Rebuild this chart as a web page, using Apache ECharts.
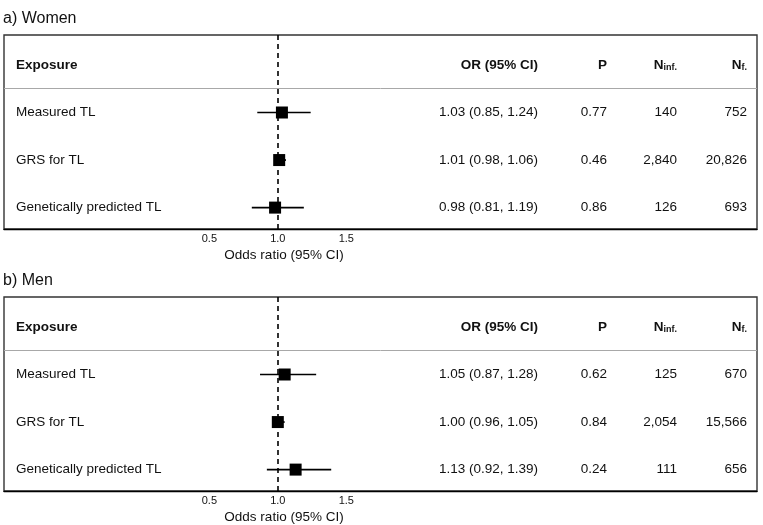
<!DOCTYPE html>
<html>
<head>
<meta charset="utf-8">
<title>Telomere length forest plot</title>
<script src="https://cdn.jsdelivr.net/npm/echarts@6/dist/echarts.min.js"></script>
<style>
  html, body { margin: 0; padding: 0; background: #fff; }
  #chart { width: 763px; height: 525px; }
</style>
</head>
<body>
<div id="chart"></div>
<script>
const exposures = ['Measured TL', 'GRS for TL', 'Genetically predicted TL'];
const xTicks = [0.5, 1.0, 1.5];

const womenOR = [1.03, 1.01, 0.98];
const womenLow = [0.85, 0.98, 0.81];
const womenHigh = [1.24, 1.06, 1.19];
const womenP = ['0.77', '0.46', '0.86'];
const womenNinf = ['140', '2,840', '126'];
const womenNf = ['752', '20,826', '693'];

const menOR = [1.05, 1.00, 1.13];
const menLow = [0.87, 0.96, 0.92];
const menHigh = [1.28, 1.05, 1.39];
const menP = ['0.62', '0.84', '0.24'];
const menNinf = ['125', '2,054', '111'];
const menNf = ['670', '15,566', '656'];

const FONT = '"Liberation Sans", Arial, sans-serif';
const INK = '#111';
// table columns (pixel x, right edge unless noted)
const col = { label: 16, or: 538, p: 607, ninf: 677, nf: 747 };

const chart = echarts.init(document.getElementById('chart'));

function cellText(text, x, y, align, bold, rich) {
  return {
    type: 'text',
    style: {
      text: text,
      x: x,
      y: y,
      textAlign: align,
      textVerticalAlign: 'middle',
      fontFamily: FONT,
      fontSize: 13.5,
      fontWeight: bold ? 'bold' : 'normal',
      fill: INK,
      rich: rich
    }
  };
}

const subRich = {
  n: { fontFamily: FONT, fontSize: 13.5, fontWeight: 'bold', color: INK, lineHeight: 14, verticalAlign: 'top', padding: [0, 0, 2, 0] },
  s: { fontFamily: FONT, fontSize: 9, fontWeight: 'bold', color: INK, lineHeight: 9, verticalAlign: 'bottom' }
};

function tableSeries(gi, or, low, high, p, ninf, nf) {
  return {
    type: 'custom',
    xAxisIndex: gi,
    yAxisIndex: gi,
    silent: true,
    z: 1,
    data: [0, 1, 2, 3].map(r => [0, r]),
    encode: { x: 0, y: 1 },
    renderItem: function (params, api) {
      const r = api.value(1);
      const y = api.coord([0, r])[1];
      let cells;
      if (r === 0) {
        cells = [
          cellText('Exposure', col.label, y, 'left', true),
          cellText('OR (95% CI)', col.or, y, 'right', true),
          cellText('P', col.p, y, 'right', true),
          cellText('{n|N}{s|inf.}', col.ninf, y, 'right', true, subRich),
          cellText('{n|N}{s|f.}', col.nf, y, 'right', true, subRich)
        ];
      } else {
        const i = r - 1;
        const orText = or[i].toFixed(2) + ' (' + low[i].toFixed(2) + ', ' + high[i].toFixed(2) + ')';
        cells = [
          cellText(exposures[i], col.label, y, 'left', false),
          cellText(orText, col.or, y, 'right', false),
          cellText(p[i], col.p, y, 'right', false),
          cellText(ninf[i], col.ninf, y, 'right', false),
          cellText(nf[i], col.nf, y, 'right', false)
        ];
      }
      return { type: 'group', children: cells };
    },
    markLine: {
      silent: true,
      symbol: ['none', 'none'],
      label: { show: false },
      animation: false,
      lineStyle: { color: '#a8a8a8', width: 1, type: 'solid' },
      data: [
        { yAxis: 0.5 },
        { xAxis: 1, lineStyle: { color: '#000', width: 1.6, type: [5, 4] } }
      ]
    }
  };
}

function ciSeries(gi, or, low, high) {
  return {
    type: 'custom',
    xAxisIndex: gi,
    yAxisIndex: gi,
    silent: true,
    z: 3,
    data: or.map((v, i) => [low[i], high[i], i + 1]),
    encode: { x: [0, 1], y: 2 },
    renderItem: function (params, api) {
      const a = api.coord([api.value(0), api.value(2)]);
      const b = api.coord([api.value(1), api.value(2)]);
      return {
        type: 'line',
        shape: { x1: a[0], y1: a[1], x2: b[0], y2: b[1] },
        style: { stroke: '#000', lineWidth: 1.7 }
      };
    }
  };
}

function pointSeries(gi, or) {
  return {
    type: 'scatter',
    xAxisIndex: gi,
    yAxisIndex: gi,
    silent: true,
    z: 4,
    symbol: 'rect',
    symbolSize: 12,
    itemStyle: { color: '#000', opacity: 1 },
    data: or.map((v, i) => [v, i + 1])
  };
}

function xAxisFor(gi) {
  return {
    type: 'value',
    gridIndex: gi,
    min: -1,
    max: 4.5,
    interval: 0.5,
    axisLine: { show: true, onZero: false, lineStyle: { color: '#000', width: 1.4 } },
    axisTick: { show: false },
    splitLine: { show: false },
    axisLabel: {
      margin: 4,
      fontFamily: FONT,
      fontSize: 11,
      color: INK,
      formatter: v => xTicks.some(t => Math.abs(t - v) < 1e-9) ? v.toFixed(1) : ''
    }
  };
}

function yAxisFor(gi) {
  return { type: 'value', gridIndex: gi, inverse: true, min: -0.63, max: 3.45, show: false };
}

const gridBox = { left: 4, right: 6, height: 194, show: true, borderColor: '#333', borderWidth: 1.4, backgroundColor: 'transparent' };

chart.setOption({
  animation: false,
  backgroundColor: '#fff',
  title: [
    { text: 'a) Women', left: 3, top: 11, padding: 0, textStyle: { fontFamily: FONT, fontSize: 16, fontWeight: 'normal', color: INK } },
    { text: 'b) Men', left: 3, top: 273, padding: 0, textStyle: { fontFamily: FONT, fontSize: 16, fontWeight: 'normal', color: INK } }
  ],
  grid: [
    Object.assign({ top: 35 }, gridBox),
    Object.assign({ top: 297 }, gridBox)
  ],
  xAxis: [xAxisFor(0), xAxisFor(1)],
  yAxis: [yAxisFor(0), yAxisFor(1)],
  graphic: [
    { type: 'text', x: 284, y: 255, style: { text: 'Odds ratio (95% CI)', textAlign: 'center', textVerticalAlign: 'middle', fontFamily: FONT, fontSize: 13.5, fill: INK } },
    { type: 'text', x: 284, y: 517, style: { text: 'Odds ratio (95% CI)', textAlign: 'center', textVerticalAlign: 'middle', fontFamily: FONT, fontSize: 13.5, fill: INK } }
  ],
  series: [
    tableSeries(0, womenOR, womenLow, womenHigh, womenP, womenNinf, womenNf),
    ciSeries(0, womenOR, womenLow, womenHigh),
    pointSeries(0, womenOR),
    tableSeries(1, menOR, menLow, menHigh, menP, menNinf, menNf),
    ciSeries(1, menOR, menLow, menHigh),
    pointSeries(1, menOR)
  ]
});
</script>
</body>
</html>
